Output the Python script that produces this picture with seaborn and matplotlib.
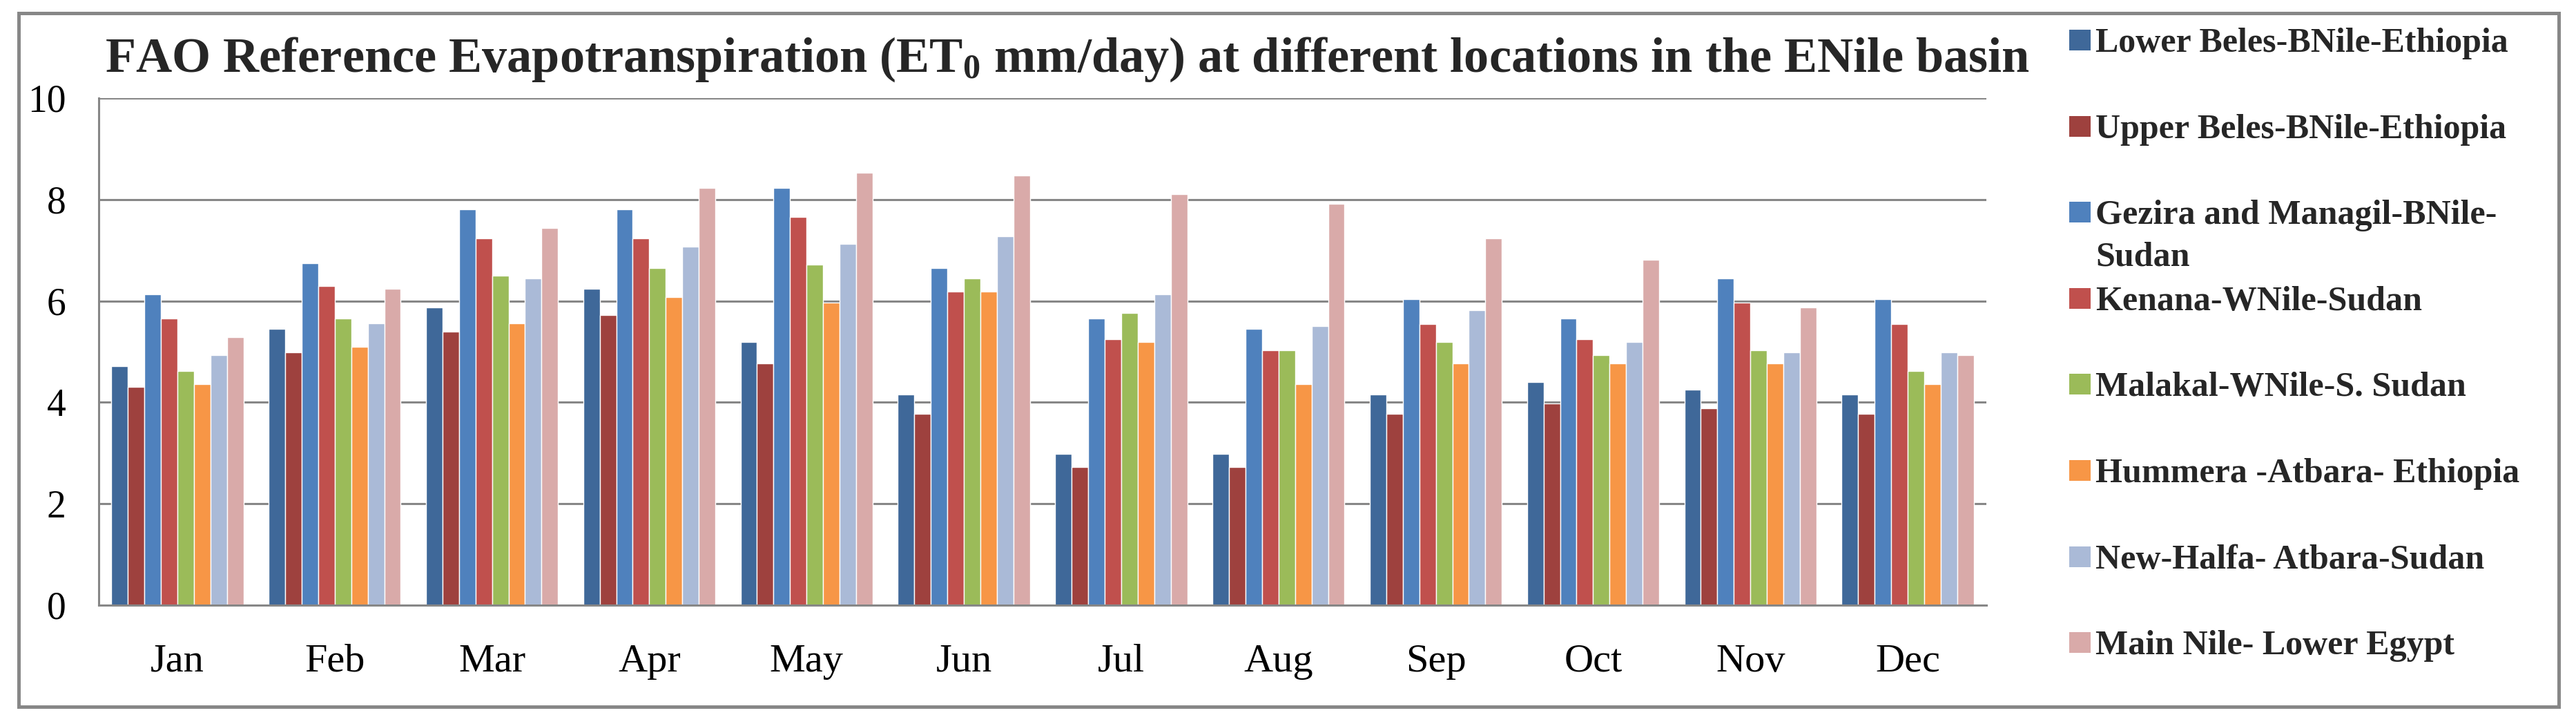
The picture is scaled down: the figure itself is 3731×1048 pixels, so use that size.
import numpy as np
import pandas as pd
import matplotlib
matplotlib.use("Agg")
import matplotlib.pyplot as plt
from matplotlib.patches import Rectangle
import seaborn as sns

months = ["Jan", "Feb", "Mar", "Apr", "May", "Jun", "Jul", "Aug", "Sep", "Oct", "Nov", "Dec"]
locations = [
    "Lower Beles-BNile-Ethiopia",
    "Upper Beles-BNile-Ethiopia",
    "Gezira and Managil-BNile-Sudan",
    "Kenana-WNile-Sudan",
    "Malakal-WNile-S. Sudan",
    "Hummera -Atbara- Ethiopia",
    "New-Halfa- Atbara-Sudan",
    "Main Nile- Lower Egypt",
]
lower_beles = [4.72, 5.45, 5.87, 6.24, 5.19, 4.15, 2.99, 2.99, 4.15, 4.40, 4.25, 4.15]
upper_beles = [4.30, 4.98, 5.40, 5.72, 4.77, 3.77, 2.73, 2.73, 3.77, 3.98, 3.88, 3.77]
gezira = [6.13, 6.75, 7.81, 7.81, 8.23, 6.65, 5.66, 5.45, 6.03, 5.66, 6.44, 6.03]
kenana = [5.66, 6.29, 7.23, 7.23, 7.65, 6.18, 5.24, 5.03, 5.55, 5.24, 5.97, 5.55]
malakal = [4.62, 5.66, 6.50, 6.65, 6.71, 6.44, 5.76, 5.03, 5.19, 4.93, 5.03, 4.62]
hummera = [4.36, 5.09, 5.56, 6.08, 5.97, 6.18, 5.19, 4.36, 4.77, 4.77, 4.77, 4.36]
new_halfa = [4.93, 5.56, 6.44, 7.07, 7.13, 7.28, 6.13, 5.51, 5.82, 5.19, 4.98, 4.98]
main_nile = [5.29, 6.24, 7.44, 8.23, 8.53, 8.48, 8.11, 7.91, 7.23, 6.81, 5.87, 4.93]
y_ticks = [0, 2, 4, 6, 8, 10]

series = [lower_beles, upper_beles, gezira, kenana, malakal, hummera, new_halfa, main_nile]
colors = ["#3F6899", "#9E413E", "#4F81BD", "#C0504D", "#9BBB59", "#F79646", "#AABAD7", "#D9AAA9"]

df = pd.DataFrame({
    "month": np.repeat([months], len(locations), axis=0).ravel(),
    "location": np.repeat(locations, len(months)),
    "value": np.concatenate(series),
})

sns.set_theme(style="white")
plt.rcParams["font.family"] = ["Liberation Serif", "DejaVu Serif"]
plt.rcParams["mathtext.fontset"] = "custom"
plt.rcParams["mathtext.rm"] = "Liberation Serif:bold"
plt.rcParams["mathtext.default"] = "rm"

W, H = 3731, 1048
fig = plt.figure(figsize=(W / 100, H / 100), dpi=100)
fig.patch.set_facecolor("white")

L, R, T, B = 143, 2877, 142, 876
ax = fig.add_axes([L / W, 1 - B / H, (R - L) / W, (B - T) / H])

sns.barplot(data=df, x="month", y="value", hue="location", order=months,
            hue_order=locations, palette=colors, saturation=1, width=0.84,
            gap=0, errorbar=None, legend=False, ax=ax, zorder=3)

grid_c = "#878787"
ax.set_ylim(0, 10)
ax.set_xlim(-0.5, 11.5)
ax.set_yticks(y_ticks)
ax.set_yticklabels([str(v) for v in y_ticks])
ax.yaxis.grid(True, color=grid_c, linewidth=2.2, zorder=0)
ax.set_axisbelow(True)
for s in ["top", "right"]:
    ax.spines[s].set_visible(False)
for s in ["left", "bottom"]:
    ax.spines[s].set_color(grid_c)
    ax.spines[s].set_linewidth(2.2)
ax.spines["bottom"].set_zorder(5)
ax.tick_params(axis="both", length=0)
ax.tick_params(axis="y", pad=34, labelsize=40, colors="black")
ax.tick_params(axis="x", pad=40, labelsize=42, colors="black")
ax.set_xlabel("")
ax.set_ylabel("")

# Title
fig.text(152 / W, 1 - 104 / H,
         "FAO Reference Evapotranspiration (ET$_0$ mm/day) at different locations in the ENile basin",
         fontsize=52, fontweight="bold", ha="left", va="baseline",
         family=["Liberation Serif", "DejaVu Serif"])

# Legend (drawn as figure text + swatches)
leg_fs = 36
for i, (lab, c) in enumerate(zip(locations, colors)):
    cy = 58 + 124.6 * i
    fig.patches.append(Rectangle((2997 / W, 1 - (cy + 15) / H), 31 / W, 30 / H,
                                 transform=fig.transFigure, facecolor=c,
                                 edgecolor="none", figure=fig))
    lines = [lab] if i != 2 else ["Gezira and Managil-BNile-", "Sudan"]
    for j, ln in enumerate(lines):
        fig.text(3035 / W, 1 - (cy + 17 + 60 * j) / H, ln, fontsize=leg_fs,
                 fontweight="bold", ha="left", va="baseline")

# Outer border
fig.patches.append(Rectangle((27 / W, 1 - 1023 / H), (3706 - 27) / W, (1023 - 19) / H,
                             transform=fig.transFigure, facecolor="none",
                             edgecolor=grid_c, linewidth=3.6, figure=fig))

fig.savefig("out.png", dpi=100, facecolor="white")
